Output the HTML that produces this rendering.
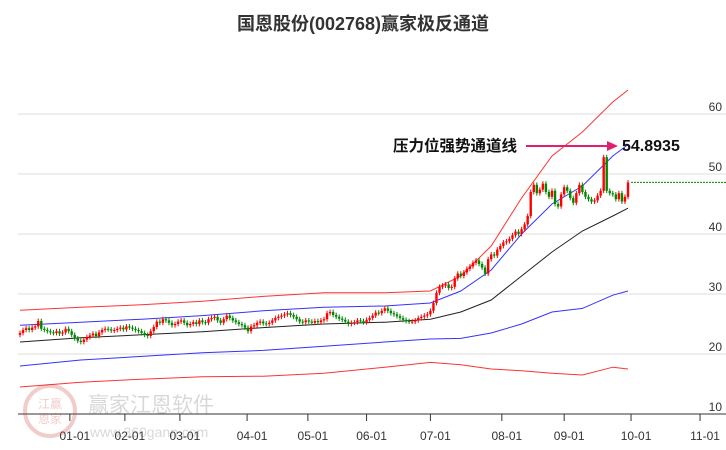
<!DOCTYPE html>
<html><head><meta charset="utf-8"><style>
body{margin:0;background:#fff;}
svg{display:block;font-family:"Liberation Sans","Noto Sans CJK SC",sans-serif;}
</style></head><body>
<svg width="726" height="450" id="c">
<text x="363" y="30" text-anchor="middle" font-size="18" font-weight="bold" fill="#333">国恩股份(002768)赢家极反通道</text>
<g id="grid"></g><g id="bands"></g><g id="candles"></g><g id="axis"></g>
<g opacity="0.25">
<circle cx="50" cy="411" r="25" fill="none" stroke="#c33" stroke-width="4"/>
<text x="50" y="408" text-anchor="middle" font-size="12" fill="#c33">江赢</text>
<text x="50" y="423" text-anchor="middle" font-size="12" fill="#c33">恩家</text>
<text x="88" y="412" font-size="21" fill="#666">赢家江恩软件</text>
<text x="90" y="437" font-size="14" fill="#666">www.360gann.com</text>
</g>
<text x="393" y="151" font-size="15.5" font-weight="bold" fill="#111">压力位强势通道线</text>
<line x1="526" y1="146" x2="610" y2="146" stroke="#e0206f" stroke-width="2"/>
<polygon points="618,146 607,141 607,151" fill="#e0206f"/>
<text x="622" y="151" font-size="16" font-weight="bold" fill="#111">54.8935</text>
</svg>
<script>
const closes=[23.5,24,24.3,24,24.4,24.6,25.5,24.2,24,23.8,23.6,23.5,23.8,23.4,23.6,24.2,23.8,
23.2,22.6,22.2,22.0,22.4,22.8,23.1,23.4,23.0,23.6,24.0,24.2,24.1,23.9,24.0,24.2,24.4,24.1,
24.6,24.4,24.2,24.0,23.8,23.5,23.2,23.0,23.8,24.5,25.4,25.2,25.8,25.6,25.2,24.8,25.0,25.4,
25.6,25.2,24.8,25.0,25.3,25.0,25.6,25.3,25.2,25.8,26.0,26.2,25.6,25.2,25.8,26.4,26.0,25.6,25.3,25.0,24.8,24.4,
23.8,24.6,24.8,25.2,25.4,25.1,25.0,25.2,25.6,26.0,26.2,26.4,26.6,26.8,26.5,26.2,25.8,25.4,25.3,25.6,
25.4,25.2,25.5,25.3,25.6,25.8,26.8,27.0,26.5,26.2,25.9,25.7,25.4,25.0,25.2,25.3,25.6,25.5,25.3,25.7,
26.0,26.4,26.9,26.8,27.2,27.6,27.2,26.8,26.6,26.3,26.0,25.7,25.5,25.4,25.4,25.6,26.0,26.2,26.4,26.6,27.2,
28.5,30.2,31.2,31.4,31.6,31.0,31.2,32.6,33.4,33.0,33.6,34.2,34.6,35.2,35.6,35.0,34.4,33.4,35.8,36.6,36.4,37.4,38.0,
38.6,38.8,39.2,39.8,40.4,40.0,40.8,41.6,43.0,47.0,48.2,46.8,47.4,48.4,47.0,46.2,47.2,45.0,44.6,46.6,47.8,
47.2,46.0,45.2,46.8,48.2,47.0,46.2,45.8,45.4,45.6,46.4,47.2,52.8,47.2,46.8,46.6,45.8,46.8,45.4,46.2,48.6];
const bandIdx=[0,20,40,60,80,100,120,135,145,155,165,175,185,195,200];
const upperRed=[27.3,27.8,28.2,28.8,29.6,30.2,30.2,30.5,33,38,46,53,57,62,64];
const upperBlue=[24.8,25.3,25.8,26.4,27.2,27.8,28,28.5,30.5,34,40,45,48,53,54.9];
const midLine=[22,22.7,23.2,23.7,24.4,25,25.3,25.8,27,29,33,37,40.5,43,44.3];
const lowerBlue=[18,19,19.6,20.2,20.6,21.3,22,22.5,22.6,23.5,25,27,27.6,29.8,30.5];
const lowerRed=[14.5,15.3,15.8,16.2,16.3,16.8,17.8,18.6,18.2,17.5,17.2,16.8,16.5,17.8,17.5];
const yTicks=[10,20,30,40,50,60];
const monthLabels=["01-01","02-01","03-01","04-01","05-01","06-01","07-01","08-01","09-01","10-01","11-01"];
const monthIdx=[16.4,34.5,52.6,74.7,94.7,114,135,158.5,179,201,223.7];
const NS="http://www.w3.org/2000/svg";
const X=i=>20+i*3.04, Y=v=>414-(v-10)*6;
function mk(p,t,a){const e=document.createElementNS(NS,t);for(const k in a)e.setAttribute(k,a[k]);document.getElementById(p).appendChild(e);return e;}
yTicks.forEach(v=>{
 const g=mk('grid','line',{x1:18,x2:726,y1:Y(v),y2:Y(v),stroke:v==10?'#333':'#ddd','stroke-width':1});
 
 
 const t=mk('axis','text',{x:722,y:Y(v)-3,'text-anchor':'end','font-size':12,fill:'#333'});
 t.textContent=v;
 
 
});
monthLabels.forEach((m,k)=>{
 const x=X(monthIdx[k]);
 const l=mk('axis','line',{x1:x,x2:x,y1:414,y2:421,stroke:'#333'});
 
 
 const t=mk('axis','text',{x:x+5,y:440,'text-anchor':'middle','font-size':12,fill:'#333'});
 t.textContent=m;
 
 
});
[[upperRed,'#f33','upper-red-band'],[upperBlue,'#33f','upper-blue-band'],[midLine,'#222','middle-line'],[lowerBlue,'#33f','lower-blue-band'],[lowerRed,'#f33','lower-red-band']].forEach(([arr,c,n])=>{
 const p=mk('bands','polyline',{points:arr.map((v,i)=>X(bandIdx[i])+','+Y(v)).join(' '),fill:'none',stroke:c,'stroke-width':1});
 
 
});
closes.forEach((c,i)=>{
 const o=i?closes[i-1]:c-0.3;const up=c>=o;const col=up?'#f00':'#080';
 const hi=Math.max(o,c)+0.4,lo=Math.min(o,c)-0.4;
 const w=mk('candles','line',{x1:X(i),x2:X(i),y1:Y(hi),y2:Y(lo),stroke:col});
 
 
 const r=mk('candles','rect',{x:X(i)-1.2,y:Y(Math.max(o,c)),width:2.4,height:Math.max(1,Math.abs(c-o)*6),fill:col});
 
 
});
const last=closes[closes.length-1];
const d=mk('candles','line',{x1:X(closes.length-1)+3,x2:726,y1:Y(last),y2:Y(last),stroke:'#080','stroke-dasharray':'2,1'});


</script>
</body></html>
